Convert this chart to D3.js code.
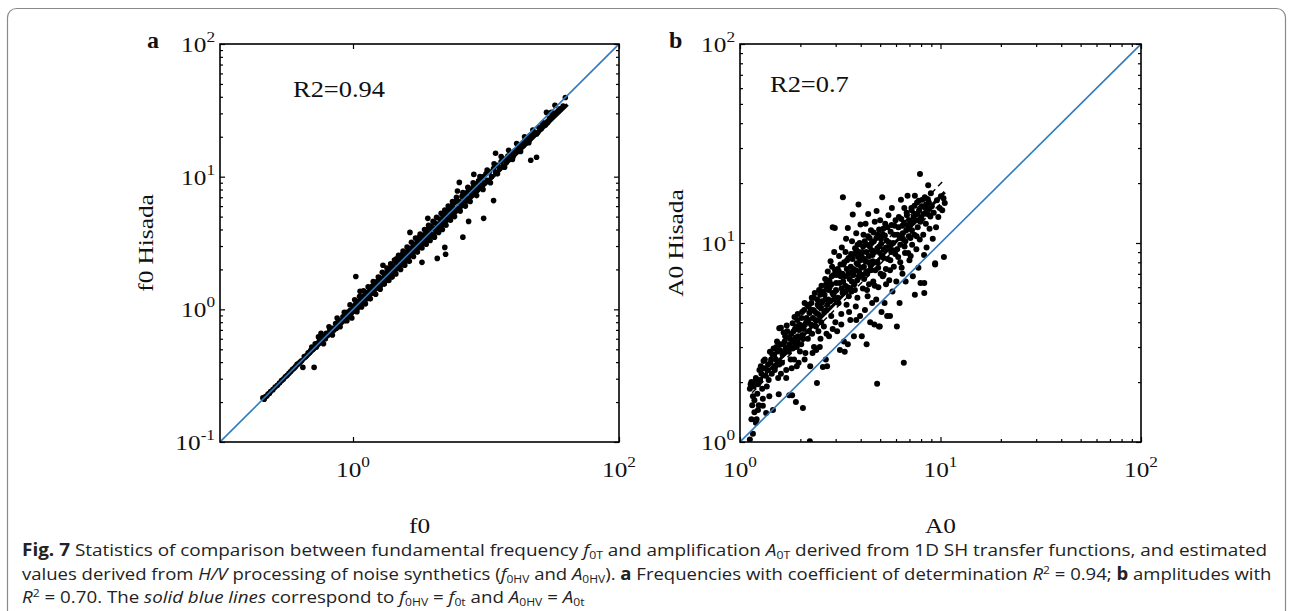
<!DOCTYPE html>
<html><head><meta charset="utf-8">
<script src="https://cdn.jsdelivr.net/npm/d3@7"></script>
<style>html,body{margin:0;padding:0;background:#fff;}svg{display:block;}</style>
</head><body>
<script>
// ---------------- DATA ----------------
const xTicksA = [1, 100];
const xTickLabelsA = ["0", "2"];
const yTicksA = [0.1, 1, 10, 100];
const yTickLabelsA = ["-1", "0", "1", "2"];
const minorA = [0.2,0.3,0.4,0.5,0.6,0.7,0.8,0.9,2,3,4,5,6,7,8,9,20,30,40,50,60,70,80,90];
const xTicksB = [1, 10, 100];
const xTickLabelsB = ["0", "1", "2"];
const yTicksB = [1, 10, 100];
const yTickLabelsB = ["0", "1", "2"];
const minorB = [2,3,4,5,6,7,8,9,20,30,40,50,60,70,80,90];

const diagA = [0.1, 100];
const diagB = [1, 100];
const fitA = [[0.21, 0.21], [41, 35]];
const fitB = [[1.15, 1.88], [10.5, 18.0]];
const fitBUpper = [[1.15, 2.0], [10.3, 20.5]];
const fitBLower = [[1.15, 1.77], [10.5, 16.6]];

const r2A = "R2=0.94";
const r2B = "R2=0.7";

const pointsA = [
[0.21,0.215],[0.215,0.21],[0.22,0.22],[0.225,0.222],[0.23,0.23],[0.235,0.232],[0.24,0.24],[0.25,0.248],[0.26,0.26],[0.27,0.268],[0.28,0.278],[0.29,0.29],[0.30,0.298],
[0.31,0.31],[0.32,0.318],[0.33,0.33],[0.34,0.34],[0.35,0.352],[0.36,0.36],[0.37,0.37],[0.38,0.385],[0.39,0.39],[0.40,0.40],[0.41,0.41],[0.42,0.365],[0.43,0.44],[0.44,0.44],[0.45,0.45],[0.46,0.47],[0.47,0.47],[0.48,0.49],[0.50,0.50],[0.51,0.365],[0.49,0.52],
[0.52,0.55],[0.53,0.52],[0.55,0.56],[0.575,0.66],[0.56,0.58],[0.58,0.57],[0.60,0.62],[0.62,0.60],[0.63,0.66],[0.65,0.64],[0.67,0.70],[0.68,0.66],[0.70,0.72],[0.72,0.70],[0.74,0.78],[0.75,0.72],[0.77,0.80],[0.78,0.75],[0.80,0.82],
[0.82,0.80],[0.84,0.88],[0.86,0.82],[0.88,0.90],[0.90,0.95],[0.92,0.88],[0.95,0.98],[0.97,0.93],[1.00,1.05],[1.02,0.97],[1.05,1.77],[1.05,1.10],[1.08,1.02],[1.10,1.15],[1.13,1.37],[1.12,1.08],[1.15,1.20],[1.18,1.12],[1.20,1.26],[1.22,1.18],[1.25,1.30],[1.28,1.20],[1.30,1.35],
[1.32,1.25],[1.35,1.42],[1.38,1.32],[1.40,1.50],[1.43,1.38],[1.46,1.55],[1.50,1.45],[1.52,1.62],[1.55,1.50],[1.58,1.60],[1.60,1.72],[1.62,1.52],[1.65,1.70],[1.68,2.15],[1.70,1.62],[1.72,1.85],[1.75,1.78],[1.78,1.65],[1.80,1.90],[1.85,1.78],[1.88,2.00],[1.90,1.82],[1.95,2.05],[1.98,1.90],
[2.00,2.10],[2.05,1.92],[2.10,2.25],[2.12,2.40],[2.15,2.05],[2.20,2.30],[2.25,2.15],[2.30,2.45],[2.32,2.20],[2.35,2.60],[2.40,2.35],[2.45,2.50],[2.50,2.30],[2.55,2.70],[2.60,2.50],[2.62,2.80],[2.68,3.80],[2.70,2.55],[2.75,2.90],[2.80,2.65],[2.85,3.05],[2.90,2.75],[2.95,3.10],[3.00,2.90],
[3.05,3.30],[3.10,2.95],[3.15,3.50],[3.20,3.10],[3.30,2.26],[3.30,3.40],[3.35,3.60],[3.40,3.20],[3.50,3.70],[3.55,3.30],[3.60,4.00],[3.65,4.85],[3.70,3.50],[3.75,3.90],[3.80,3.60],[3.85,4.20],[3.90,3.70],[4.00,4.10],[4.05,3.60],[4.10,4.50],[4.20,3.90],[4.30,2.42],[4.30,4.40],[4.40,4.10],[4.50,4.80],[4.55,4.20],[4.60,4.50],[4.70,5.20],[4.75,4.40],[4.80,4.90],[4.90,2.93],[4.97,2.60],[4.90,4.60],[5.00,5.30],
[5.10,4.80],[5.20,5.60],[5.30,5.00],[5.40,5.80],[5.50,5.10],[5.60,6.10],[5.70,5.40],[5.80,6.40],[5.90,5.60],[6.00,6.60],[6.10,7.80],[6.20,5.80],[6.30,9.05],[6.30,6.50],[6.50,6.20],[6.60,7.10],[6.70,3.50],[6.80,6.50],[6.90,7.30],[7.00,6.70],[7.20,7.60],[7.40,4.60],[7.40,6.90],[7.60,8.00],[7.80,7.30],[8.00,8.30],[8.10,10.4],[8.20,7.60],[8.40,8.80],[8.60,8.00],[8.80,9.30],[9.00,8.40],[9.20,9.60],[9.40,8.70],[9.60,4.85],[9.60,10.0],[9.80,9.00],
[10.0,10.5],[10.3,9.4],[10.6,10.9],[11.0,10.0],[11.4,6.6],[11.4,11.5],[11.8,15.0],[11.8,10.8],[12.2,12.2],[12.6,11.4],[13.0,13.0],[13.4,12.0],[13.8,13.6],[14.2,12.8],[14.6,14.3],[15.0,13.5],[15.5,15.0],[16.0,14.2],[16.5,15.7],[17.0,15.5],[17.5,16.5],[18.0,16.2],[18.5,17.5],[19.0,17.0],[19.5,18.5],[20.0,18.0],[20.5,19.5],[21.0,18.8],[21.7,13.3],[21.5,20.5],[22.0,19.8],[23.0,21.5],[24.0,14.0],[24.0,21.0],[25.0,23.5],[26.0,23.0],[27.0,25.5],[28.0,24.5],[28.5,30.5],[29.0,26.0],[30.0,27.5],[31.0,28.0],[32.0,29.0],[33.0,34.5],[33.5,30.0],[35.0,31.5],[36.0,32.5],[38.0,34.0],[39.5,39.5],
[0.55,0.62],[0.60,0.55],[0.66,0.74],[0.70,0.64],[0.76,0.86],[0.80,0.74],[0.86,0.95],[0.90,0.82],[0.95,1.08],[0.98,0.86],
[1.03,1.18],[1.07,0.96],[1.12,1.25],[1.16,1.04],[1.20,1.38],[1.24,1.10],[1.30,1.48],[1.35,1.20],[1.42,1.62],[1.48,1.30],[1.55,1.75],[1.60,1.42],[1.66,1.90],[1.72,1.55],[1.80,2.05],[1.86,1.65],[1.92,2.20],[1.97,1.75],
[2.05,2.35],[2.10,1.85],[2.20,2.55],[2.28,2.00],[2.38,2.75],[2.45,2.15],[2.55,2.95],[2.65,2.30],[2.75,3.20],[2.85,2.50],[2.95,3.45],[3.05,2.70],[3.20,3.70],[3.30,2.90],[3.45,4.00],[3.55,3.10],[3.70,4.30],[3.80,3.30],[4.00,4.60],[4.10,3.50],[4.25,4.95],[4.40,3.80],[4.60,5.30],[4.70,4.00],[4.90,5.60],[5.00,4.30],
[5.20,6.00],[5.40,4.70],[5.60,6.50],[5.80,5.00],[6.00,7.00],[6.40,5.50],[6.70,7.60],[7.00,6.00],[7.30,8.30],[7.60,6.50],[8.00,9.00],[8.50,7.20],[9.00,10.0],[9.50,8.00],[10.2,11.2],[10.8,9.0],[11.5,12.5],[12.2,10.5],[13.0,14.2],[13.8,11.8],[14.8,15.8],[15.8,13.5],[17.0,17.8],[18.2,15.5],[19.5,20.0],[21.0,18.0],[22.5,22.5],[24.5,21.5],[26.5,25.0],[29.0,25.5],[31.0,30.5],[34.0,30.5]
];

const pointsB = [
[1.12,1.03],[1.16,1.10],[1.14,1.30],[1.18,1.41],[1.15,1.53],[1.17,1.90],[1.19,2.02],[1.13,1.95],[1.20,1.25],[1.18,1.62],
[1.21,1.30],[1.24,1.53],[1.22,1.75],[1.26,2.05],[1.28,2.20],[1.30,1.65],[1.32,2.35],[1.35,1.40],[1.34,2.15],[1.38,2.45],[1.36,1.90],[1.25,2.30],[1.31,2.55],
[1.41,2.84],[1.44,2.20],[1.46,1.45],[1.43,2.60],[1.48,2.75],[1.50,2.40],[1.52,3.00],[1.55,2.10],[1.56,1.74],[1.57,3.73],[1.60,3.75],[1.58,2.90],[1.53,3.20],[1.47,2.95],
[1.62,2.50],[1.64,3.10],[1.66,2.80],[1.68,3.40],[1.70,2.30],[1.72,3.60],[1.74,3.00],[1.75,2.84],[1.76,1.72],[1.78,3.30],[1.79,2.60],[1.65,3.55],[1.71,3.85],
[1.82,1.72],[1.84,3.20],[1.86,2.60],[1.88,3.70],[1.90,1.59],[1.92,3.00],[1.93,4.10],[1.95,3.40],[1.96,2.50],[1.98,3.90],[1.99,2.85],[1.83,3.95],[1.87,4.25],[1.94,4.40],
[2.02,3.10],[2.04,4.50],[2.06,1.48],[2.08,3.70],[2.10,5.00],[2.12,2.80],[2.15,4.20],[2.18,3.30],[2.20,4.80],[2.23,1.01],[2.24,2.40],[2.26,3.90],[2.28,5.30],[2.14,4.00],[2.22,4.45],[2.05,3.45],[2.29,3.50],
[2.32,4.60],[2.34,3.00],[2.36,5.60],[2.38,4.10],[2.40,2.90],[2.42,1.98],[2.44,4.90],[2.46,3.60],[2.48,5.80],[2.50,4.30],[2.52,3.30],[2.55,6.10],[2.57,5.10],[2.59,2.38],[2.45,4.40],[2.53,4.70],
[2.62,3.80],[2.64,5.50],[2.66,6.60],[2.68,2.60],[2.70,4.60],[2.72,2.40],[2.74,7.20],[2.76,5.20],[2.78,3.40],[2.80,6.00],[2.83,8.10],[2.85,4.30],[2.87,6.80],[2.90,12.0],[2.92,5.50],[2.95,9.00],[2.97,11.9],[2.99,4.00],[2.71,5.90],[2.88,7.60],
[3.02,6.30],[3.05,3.60],[3.07,7.40],[3.10,5.00],[3.12,8.60],[3.15,2.90],[3.18,6.80],[3.20,4.40],[3.22,9.50],[3.25,5.60],[3.26,17.0],[3.28,7.80],[3.30,3.20],[3.33,2.84],[3.35,6.10],[3.38,10.5],[3.40,4.90],[3.42,8.20],[3.45,3.10],[3.45,11.9],[3.47,7.00],[3.49,5.40],[3.36,9.00],
[3.52,6.60],[3.55,4.10],[3.58,8.80],[3.60,5.70],[3.62,10.2],[3.65,13.9],[3.67,7.40],[3.70,3.40],[3.72,6.20],[3.75,9.40],[3.78,4.80],[3.80,11.2],[3.82,7.90],[3.85,5.30],[3.88,8.50],[3.90,15.6],[3.92,6.80],[3.95,10.0],[3.97,4.30],[3.99,12.4],[3.63,7.10],[3.86,9.80],
[4.02,7.50],[4.05,3.40],[4.08,9.00],[4.10,5.90],[4.13,11.0],[4.16,6.60],[4.18,8.30],[4.20,4.60],[4.23,12.5],[4.26,7.20],[4.28,3.10],[4.30,9.80],[4.33,5.40],[4.36,14.0],[4.38,8.00],[4.40,6.20],[4.43,10.6],[4.46,4.00],[4.48,7.70],[4.50,11.6],[4.53,9.20],[4.56,5.00],[4.58,8.70],
[4.62,6.40],[4.65,10.2],[4.68,3.90],[4.70,12.8],[4.73,7.30],[4.76,9.10],[4.78,5.20],[4.80,14.5],[4.83,1.96],[4.85,8.00],[4.88,11.0],[4.90,6.00],[4.93,3.80],[4.95,9.60],[4.98,3.80],[5.00,13.0],[5.03,7.00],[5.05,10.5],[5.08,4.50],[5.10,8.60],[5.12,17.0],[5.15,6.80],[5.18,11.8],
[5.22,9.30],[5.26,5.00],[5.30,12.5],[5.34,7.40],[5.38,10.3],[5.42,4.30],[5.46,8.30],[5.50,13.8],[5.55,6.50],[5.60,4.30],[5.64,11.4],[5.68,9.00],[5.72,15.0],[5.76,5.70],[5.80,10.0],[5.85,7.60],[5.90,12.2],[5.95,8.80],[5.35,6.20],[5.58,9.60],
[6.02,6.40],[6.06,3.80],[6.10,11.0],[6.15,8.50],[6.20,13.5],[6.25,5.00],[6.30,9.80],[6.35,16.5],[6.40,7.50],[6.45,12.2],[6.50,10.5],[6.56,2.50],[6.60,15.0],[6.65,8.90],[6.70,6.40],[6.75,11.6],[6.80,13.8],[6.85,17.3],[6.90,8.90],[6.95,10.8],[6.46,7.00],[6.62,9.60],
[7.05,12.3],[7.10,8.60],[7.16,15.0],[7.22,9.80],[7.28,6.80],[7.34,13.5],[7.40,11.0],[7.45,17.3],[7.45,5.50],[7.52,14.0],[7.58,9.30],[7.64,16.0],[7.70,12.0],[7.76,7.50],[7.82,14.6],[7.88,10.4],[7.90,22.2],[7.95,6.30],[7.20,11.6],
[8.05,13.2],[8.12,16.5],[8.20,11.0],[8.28,8.70],[8.30,5.60],[8.30,6.30],[8.38,15.0],[8.45,12.5],[8.52,9.50],[8.60,14.0],[8.68,19.5],[8.75,16.0],[8.82,11.8],[8.90,13.6],
[9.05,15.3],[9.15,10.5],[9.25,14.2],[9.40,7.80],[9.40,7.90],[9.50,12.0],[9.60,16.4],[9.75,13.5],[9.90,15.0],[10.05,17.2],[10.2,14.6],[10.4,8.50],[10.5,15.9],[10.35,16.8],
[1.12,1.85],[1.14,2.00],[1.16,1.70],[1.20,2.10],[1.23,1.95],[1.27,2.40],[1.29,1.85],[1.33,2.60],[1.37,2.30],[1.39,2.05],[1.42,2.50],[1.45,2.75],[1.49,2.30],[1.23,1.45],[1.30,1.52],[1.40,1.70],
[1.51,2.60],[1.54,2.85],[1.57,2.45],[1.59,3.10],[1.63,2.75],[1.67,3.20],[1.69,2.95],[1.73,3.35],[1.77,3.10],[1.80,3.50],[1.83,2.95],[1.85,3.60],[1.89,3.35],[1.91,3.80],[1.94,3.15],[1.97,3.65],[1.60,2.20],[1.70,2.10],[1.81,2.35],[1.92,2.40],
[2.01,3.80],[2.03,4.20],[2.07,3.30],[2.09,4.60],[2.11,3.90],[2.16,4.90],[2.19,4.10],[2.21,3.60],[2.25,4.60],[2.27,5.00],[2.31,4.20],[2.33,5.30],[2.37,4.50],[2.39,3.80],[2.43,5.20],[2.47,4.80],[2.51,5.50],[2.54,4.00],[2.56,5.00],[2.60,5.70],[2.63,4.50],[2.67,5.20],[2.69,6.20],[2.73,4.90],[2.77,5.80],[2.79,6.50],[2.82,5.10],[2.86,6.20],[2.89,5.60],[2.93,6.90],[2.96,5.20],[2.98,7.30],[2.10,2.60],[2.30,2.80],[2.50,3.00],[2.70,3.50],[2.90,3.70],
[3.01,5.80],[3.04,6.90],[3.08,5.30],[3.11,7.20],[3.14,6.30],[3.17,7.80],[3.21,5.90],[3.24,7.00],[3.27,6.40],[3.31,8.00],[3.34,6.80],[3.37,5.70],[3.41,7.40],[3.44,6.00],[3.48,8.40],[3.51,7.10],[3.54,5.90],[3.57,7.60],[3.61,6.40],[3.64,8.30],[3.68,6.90],[3.71,8.80],[3.74,5.80],[3.77,7.30],[3.81,9.20],[3.84,6.50],[3.87,7.80],[3.91,9.00],[3.94,7.10],[3.98,8.20],[3.20,3.90],[3.50,4.50],[3.80,4.10],
[4.04,8.60],[4.07,6.90],[4.11,9.60],[4.15,7.60],[4.19,10.2],[4.22,8.10],[4.27,9.00],[4.31,7.00],[4.35,10.8],[4.39,8.60],[4.44,9.60],[4.49,7.30],[4.54,10.0],[4.59,8.10],[4.64,11.3],[4.69,9.00],[4.74,8.00],[4.79,10.6],[4.84,9.40],[4.89,7.50],[4.94,11.7],[4.99,8.90],[5.06,9.90],[5.13,11.1],[5.20,8.40],[5.28,10.9],[5.36,9.50],[5.44,12.0],[5.52,10.1],[5.62,8.20],[5.70,12.3],[5.78,9.20],[5.88,11.0],[5.97,13.0],[4.30,5.80],[4.70,6.10],[5.20,6.90],[5.60,7.30],
[6.08,9.30],[6.18,12.0],[6.28,10.6],[6.38,13.2],[6.48,11.2],[6.58,12.6],[6.68,10.2],[6.78,14.2],[6.88,12.2],[6.98,13.0],[7.08,10.6],[7.18,14.6],[7.30,12.7],[7.42,15.4],[7.55,13.0],[7.68,14.0],[7.80,16.3],[7.93,12.8],[8.08,15.3],[8.22,14.0],[8.35,17.0],[8.48,15.6],[8.65,16.6],[8.80,14.8],[8.95,17.8],[6.30,8.00],[7.00,8.20],[7.60,10.8]
];

// ---------------- DRAWING ----------------
const W = 1292, H = 611;
const SERIF = "'Liberation Serif','Times New Roman',serif";
const SANS = "'Liberation Sans Narrow','Open Sans','Noto Sans',sans-serif";
const SX = 1.15;
const BLUE = "#2f7abf";

const svg = d3.select("body").append("svg").attr("width", W).attr("height", H);

svg.append("rect").attr("x", 7.5).attr("y", 8.5).attr("width", 1278).attr("height", 700)
  .attr("rx", 9).attr("fill", "none").attr("stroke", "#8a8a8a").attr("stroke-width", 1.2);

function powLabel(g, x, y, exp, anchor) {
  const t = g.append("text")
    .attr("transform", `translate(${x},${y}) scale(${SX},1)`)
    .attr("text-anchor", anchor)
    .attr("font-family", SERIF).attr("font-size", 22).attr("fill", "#111");
  t.append("tspan").text("10");
  t.append("tspan").attr("dy", -10).attr("font-size", 15).text(exp);
}

function panel(cfg) {
  const x = d3.scaleLog().domain(cfg.xDom).range([cfg.l, cfg.r]);
  const y = d3.scaleLog().domain(cfg.yDom).range([cfg.b, cfg.t]);
  const g = svg.append("g");
  const clip = "clip" + cfg.id;
  g.append("clipPath").attr("id", clip).append("rect")
    .attr("x", cfg.l).attr("y", cfg.t).attr("width", cfg.r - cfg.l).attr("height", cfg.b - cfg.t);
  const plot = g.append("g").attr("clip-path", `url(#${clip})`);

  plot.append("g").selectAll("circle").data(cfg.pts).join("circle")
    .attr("cx", d => x(d[0])).attr("cy", d => y(d[1])).attr("r", cfg.rad).attr("fill", "#000");

  const line = d3.line().x(d => x(d[0])).y(d => y(d[1]));
  cfg.fits.forEach(f => {
    plot.append("path").attr("d", line(f.pts)).attr("fill", "none")
      .attr("stroke", "#000").attr("stroke-width", f.w)
      .attr("stroke-dasharray", f.dash || null);
  });
  plot.append("path").attr("d", line(cfg.diag.map(v => [v, v])))
    .attr("fill", "none").attr("stroke", BLUE).attr("stroke-width", 1.6);

  const mk = (axis, tr, vals, size) => {
    const a = g.append("g").attr("transform", tr)
      .call(axis.tickValues(vals).tickSize(-size).tickSizeOuter(0).tickFormat(() => ""));
    a.select(".domain").remove();
    a.selectAll("line").attr("stroke", "#000").attr("stroke-width", 1.2);
  };
  mk(d3.axisBottom(x), `translate(0,${cfg.b})`, cfg.xT, 5);
  mk(d3.axisTop(x), `translate(0,${cfg.t})`, cfg.xT, 5);
  mk(d3.axisLeft(y), `translate(${cfg.l},0)`, cfg.yT, 5);
  mk(d3.axisRight(y), `translate(${cfg.r},0)`, cfg.yT, 5);
  if (cfg.xMinor) {
    const mx = cfg.xMinor.filter(v => v > cfg.xDom[0] && v < cfg.xDom[1]);
    mk(d3.axisBottom(x), `translate(0,${cfg.b})`, mx, 3);
    mk(d3.axisTop(x), `translate(0,${cfg.t})`, mx, 3);
  }
  const my = cfg.yMinor.filter(v => v > cfg.yDom[0] && v < cfg.yDom[1]);
  mk(d3.axisLeft(y), `translate(${cfg.l},0)`, my, 3);
  mk(d3.axisRight(y), `translate(${cfg.r},0)`, my, 3);

  g.append("rect").attr("x", cfg.l).attr("y", cfg.t).attr("width", cfg.r - cfg.l).attr("height", cfg.b - cfg.t)
    .attr("fill", "none").attr("stroke", "#000").attr("stroke-width", 1.6);

  cfg.xT.forEach((v, i) => powLabel(g, x(v), cfg.b + 35, cfg.xL[i], "middle"));
  cfg.yT.forEach((v, i) => powLabel(g, cfg.l - 5, y(v) + 8, cfg.yL[i], "end"));

  g.append("text").attr("transform", `translate(${(cfg.l + cfg.r) / 2},${cfg.b + 91}) scale(${SX},1)`)
    .attr("text-anchor", "middle").attr("font-family", SERIF).attr("font-size", 22).attr("fill", "#111")
    .text(cfg.xTitle);
  g.append("text").attr("transform", `translate(${cfg.yTitleX},${(cfg.t + cfg.b) / 2}) rotate(-90) scale(${SX},1)`)
    .attr("text-anchor", "middle").attr("font-family", SERIF).attr("font-size", 22).attr("fill", "#111")
    .text(cfg.yTitle);
  g.append("text").attr("x", cfg.letterX).attr("y", 48).attr("font-family", SERIF)
    .attr("font-weight", "bold").attr("font-size", 24).attr("fill", "#111").text(cfg.letter);
  g.append("text").attr("transform", `translate(${cfg.r2x},${cfg.r2y}) scale(${SX},1)`)
    .attr("font-family", SERIF).attr("font-size", 23).attr("fill", "#111").text(cfg.r2);
}

panel({
  id: "A", l: 220, r: 619, t: 44, b: 442, xDom: [0.1, 100], yDom: [0.1, 100],
  pts: pointsA, rad: 2.8, diag: diagA, fits: [{ pts: fitA, w: 3.6 }],
  xT: xTicksA, xL: xTickLabelsA, yT: yTicksA, yL: yTickLabelsA, xMinor: null, yMinor: minorA,
  xTitle: "f0", yTitle: "f0 Hisada", yTitleX: 153, letter: "a", letterX: 147,
  r2: r2A, r2x: 293, r2y: 97
});
panel({
  id: "B", l: 740, r: 1141, t: 44, b: 442, xDom: [1, 100], yDom: [1, 100],
  pts: pointsB, rad: 3.0, diag: diagB,
  fits: [{ pts: fitB, w: 3.2 }, { pts: fitBUpper, w: 1.4, dash: "6,4" }, { pts: fitBLower, w: 1.4, dash: "6,4" }],
  xT: xTicksB, xL: xTickLabelsB, yT: yTicksB, yL: yTickLabelsB, xMinor: minorB, yMinor: minorB,
  xTitle: "A0", yTitle: "A0 Hisada", yTitleX: 683, letter: "b", letterX: 669,
  r2: r2B, r2x: 770, r2y: 92
});

// ---------------- CAPTION ----------------
const captionLines = [
  [["Fig. 7", "b"], ["  Statistics of comparison between fundamental frequency "], ["f", "i"], ["0T", "sub"],
   [" and amplification "], ["A", "i"], ["0T", "sub"], [" derived from 1D SH transfer functions, and estimated"]],
  [["values derived from "], ["H/V", "i"], [" processing of noise synthetics ("], ["f", "i"], ["0HV", "sub"],
   [" and "], ["A", "i"], ["0HV", "sub"], ["). "], ["a", "b"], [" Frequencies with coefficient of determination "],
   ["R", "i"], ["2", "sup"], [" = 0.94; "], ["b", "b"], [" amplitudes with"]],
  [["R", "i"], ["2", "sup"], [" = 0.70. The "], ["solid blue lines", "i"], [" correspond to "], ["f", "i"], ["0HV", "sub"],
   [" = "], ["f", "i"], ["0t", "sub"], [" and "], ["A", "i"], ["0HV", "sub"], [" = "], ["A", "i"], ["0t", "sub"]]
];
const capY = [556, 580, 603];
const capTargets = [1246, 1251, null];
const capNodes = captionLines.map((segs, li) => {
  const t = svg.append("text").attr("font-family", SANS).attr("font-size", 17).attr("fill", "#222")
    .attr("transform", `translate(22,${capY[li]})`);
  let shift = 0;
  segs.forEach(([s, st]) => {
    const sp = t.append("tspan").text(s);
    let want = 0;
    if (st === "b") sp.attr("font-weight", "bold");
    if (st === "i") sp.attr("font-style", "italic");
    if (st === "sub") { sp.attr("font-size", 11); want = 3; }
    if (st === "sup") { sp.attr("font-size", 11); want = -6; }
    if (want !== shift) { sp.attr("dy", want - shift); shift = want; }
  });
  return t;
});
const scales = capNodes.map((t, i) => capTargets[i] ? capTargets[i] / t.node().getComputedTextLength() : null);
const avgScale = (scales[0] + scales[1]) / 2;
capNodes.forEach((t, i) => {
  const s = scales[i] || avgScale;
  t.attr("transform", `translate(22,${capY[i]}) scale(${s},1)`);
});
</script>
</body></html>
